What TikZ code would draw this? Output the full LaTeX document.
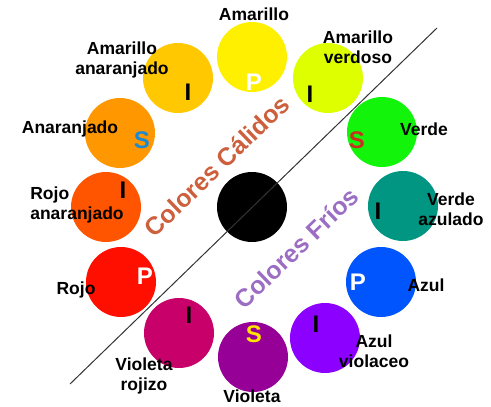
\documentclass[tikz,border=0pt]{standalone}
\usepackage{fontspec}
\setmainfont{Liberation Sans}
\definecolor{amarillo}{RGB}{255,240,0}
\definecolor{amaVerdoso}{RGB}{222,255,0}
\definecolor{verde}{RGB}{18,245,10}
\definecolor{verdeAzul}{RGB}{0,150,130}
\definecolor{azul}{RGB}{0,85,255}
\definecolor{azulViol}{RGB}{140,0,255}
\definecolor{violeta}{RGB}{150,0,150}
\definecolor{violRojizo}{RGB}{200,0,105}
\definecolor{rojo}{RGB}{255,15,0}
\definecolor{rojoAnar}{RGB}{255,85,0}
\definecolor{anaranjado}{RGB}{255,152,0}
\definecolor{amaAnar}{RGB}{255,200,0}
\definecolor{sAzul}{RGB}{30,136,208}
\definecolor{sRojo}{RGB}{200,48,32}
\definecolor{sAmarillo}{RGB}{255,230,0}
\definecolor{calido}{RGB}{205,95,60}
\definecolor{frio}{RGB}{155,110,195}
\usepackage{tikz}

\begin{document}
\begin{tikzpicture}[x=1pt,y=-1pt]
      \tikzstyle{rueda} = [circle,minimum size=70pt,inner sep=0pt]
      \tikzstyle{nombre} = [align=center,inner sep=0pt,font=\fontsize{17.5}{20}\selectfont\bfseries]
      \tikzstyle{letra} = [inner sep=0pt,font=\fontsize{24}{24}\selectfont\bfseries]
      \tikzstyle{grupo} = [inner sep=0pt,rotate=44,font=\fontsize{25}{25}\selectfont\bfseries]
      \useasboundingbox (0,0) rectangle (491,407);
      % centro y linea divisoria
      \node[rueda,fill=black] (centro) at (252,207) {};
      \coordinate (divA) at (70,384);
      \coordinate (divB) at (437,28);
      \draw[line width=1pt,draw=black!80] (divA) -- (divB);
      % circulo cromatico
      \foreach \id/\px/\py in {amarillo/252/57, amaVerdoso/328/78, verde/382/132,
          verdeAzul/403/206, azul/381/282, azulViol/325/338, violeta/253/357,
          violRojizo/179/333, rojo/121/282, rojoAnar/106/207, anaranjado/120/133,
          amaAnar/178/78}
        \node[rueda,fill=\id] (\id) at (\px,\py) {};
      % letras
      \node[letra,white] (pAmarillo) at (254,82) {P};
      \node[letra] (iAmaVerdoso) at (310,94) {I};
      \node[letra,sRojo] (sVerde) at (357,140) {S};
      \node[letra] (iVerdeAzul) at (378,211) {I};
      \node[letra,white] (pAzul) at (358,282) {P};
      \node[letra] (iAzulViol) at (316,324) {I};
      \node[letra,sAmarillo] (sVioleta) at (254,334) {S};
      \node[letra] (iViolRojizo) at (189,315) {I};
      \node[letra,white] (pRojo) at (145,276) {P};
      \node[letra] (iRojoAnar) at (123,190) {I};
      \node[letra,sAzul] (sAnaranjado) at (142,140) {S};
      \node[letra] (iAmaAnar) at (188,92) {I};
      % nombres
      \node[nombre] (tAmarillo) at (254,14) {Amarillo};
      \node[nombre] (tAmaVerdoso) at (358,47) {Amarillo\\verdoso};
      \node[nombre] (tVerde) at (424,129) {Verde};
      \node[nombre] (tVerdeAzul) at (451,209) {Verde\\azulado};
      \node[nombre] (tAzul) at (426,285) {Azul};
      \node[nombre] (tAzulViol) at (374,351) {Azul\\violaceo};
      \node[nombre] (tVioleta) at (252,396) {Violeta};
      \node[nombre] (tViolRojizo) at (144,376) {Violeta\\rojizo};
      \node[nombre] (tRojo) at (76,290) {Rojo};
      \node[nombre,align=left] (tRojoAnar) at (77,205) {Rojo\\anaranjado};
      \node[nombre] (tAnaranjado) at (70,129) {Anaranjado};
      \node[nombre] (tAmaAnar) at (122,60) {Amarillo\\anaranjado};
      % grupos
      \node[grupo,calido] (calidos) at (217,166) {Colores Cálidos};
      \node[grupo,frio] (frios) at (296,248) {Colores Fríos};
    \end{tikzpicture}
\end{document}
